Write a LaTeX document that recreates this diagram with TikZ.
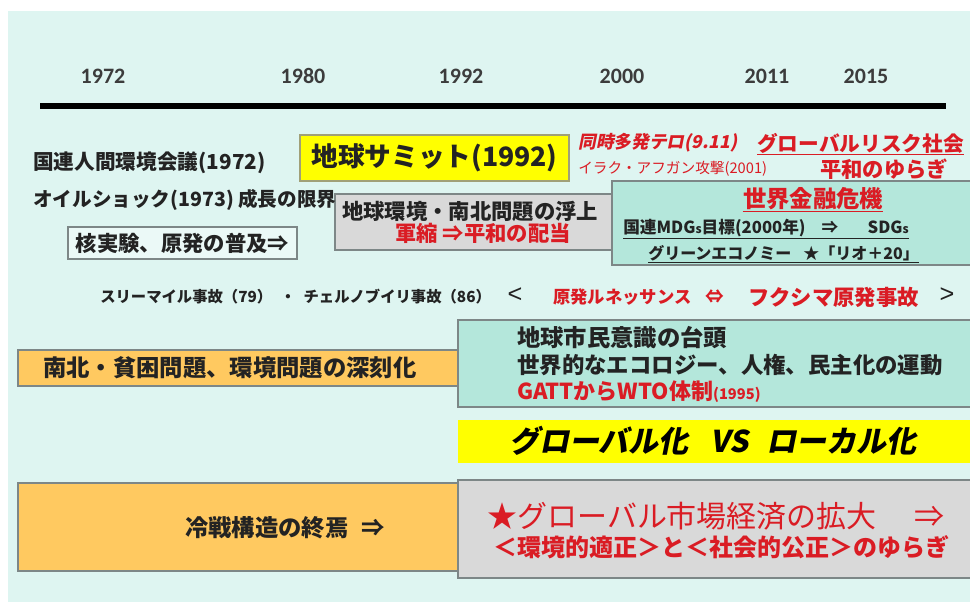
\documentclass[tikz,border=0pt]{standalone}
\usepackage{fontspec}
\setmainfont{Noto Sans CJK JP}
\newfontfamily\jpsl[FakeSlant=0.2,BoldFeatures={FakeSlant=0.2}]{Noto Sans CJK JP}
\newfontfamily\yearfont{Carlito}
\newfontfamily\latfont{Liberation Sans}
\usetikzlibrary{fit}
\definecolor{bgc}{RGB}{222,245,241}
\definecolor{mint}{RGB}{180,231,219}
\definecolor{orng}{RGB}{255,201,96}
\definecolor{gbox}{RGB}{217,217,217}
\definecolor{ylw}{RGB}{255,255,0}
\definecolor{rd}{RGB}{218,28,36}
\definecolor{bord}{RGB}{125,135,135}
\definecolor{ink}{RGB}{35,35,35}
\newcommand{\fz}[1]{\fontsize{#1pt}{#1pt}\selectfont}
\begin{document}
\begin{tikzpicture}[x=0.75pt,y=-0.75pt,
  box/.style={inner sep=0pt,draw=bord,line width=0.9pt},
  txt/.style={inner sep=0pt,anchor=west,text=ink,font=\bfseries},
  ctxt/.style={inner sep=0pt,text=ink,font=\bfseries},
  rtxt/.style={inner sep=0pt,anchor=west,text=rd,font=\bfseries},
  year/.style={inner sep=0pt,text={rgb,255:red,60;green,60;blue,60},font=\yearfont\bfseries\fz{16.5}},
  uline/.style={line width=0.8pt}]
\useasboundingbox (0,0) rectangle (970,602);
\fill[white] (0,0) rectangle (970,602);
\fill[bgc] (8,11) rectangle (970,602);

% timeline
\node[year] (y1) at (103,76) {1972};
\node[year] (y2) at (303,76) {1980};
\node[year] (y3) at (461,76) {1992};
\node[year] (y4) at (622,76) {2000};
\node[year] (y5) at (767,76) {2011};
\node[year] (y6) at (866,76) {2015};
\coordinate (tl) at (40,106);
\coordinate (tr) at (946,106);
\draw[line width=4.5pt,black] (tl) -- (tr);

% left texts
\node[txt,font=\bfseries\fz{15.5}] (un) at (33,163) {国連人間環境会議(1972)};
\node[box,fill=bgc!60!white,minimum width=229*0.75pt,minimum height=32*0.75pt] (kaku) at (182.5,243) {};
\node[ctxt,font=\bfseries\fz{16}] (kakut) at (kaku) {核実験、原発の普及⇒};

% summit
\node[box,fill=ylw,draw={rgb,255:red,160;green,160;blue,120},minimum width=269*0.75pt,minimum height=46*0.75pt] (summit) at (434.5,158) {};
\node[ctxt,font=\bfseries\fz{20}] (summitt) at (summit) {地球サミット(1992)};

% gray box 1
\node[box,fill=gbox,minimum width=277*0.75pt,minimum height=56*0.75pt] (g1) at (473.5,222) {};
\node[ctxt,font=\bfseries\fz{16}] (g1a) at (470,211) {地球環境・南北問題の浮上};
\node[ctxt,text=rd,font=\bfseries\fz{16}] (g1b) at (483,233) {軍縮 ⇒平和の配当};
\node[txt,font=\bfseries\fz{14.7}] (oil) at (33,200) {オイルショック(1973) 成長の限界};

% red top right
\node[rtxt,font=\jpsl\bfseries\fz{13.3}] (tero) at (578,143) {同時多発テロ(9.11)};
\node[rtxt,font=\fz{11}] (iraq) at (578,169) {イラク・アフガン攻撃(2001)};
\node[rtxt,font=\bfseries\fz{15.5}] (grisk) at (757,143) {グローバルリスク社会};
\draw[rd,uline] ([yshift=-1pt]grisk.south west) -- ([yshift=-1pt]grisk.south east);
\node[rtxt,font=\bfseries\fz{16}] (heiwa) at (820,169) {平和のゆらぎ};
\draw[rd,uline] ([yshift=-1pt]heiwa.south west) -- ([yshift=-1pt]heiwa.south east);

% mint box 1
\node[box,fill=mint,minimum width=363*0.75pt,minimum height=84*0.75pt] (m1) at (793.5,223) {};
\node[ctxt,text=rd,font=\bfseries\fz{17.5}] (kinyu) at (813,199) {世界金融危機};
\draw[rd,uline] ([yshift=-1pt]kinyu.south west) -- ([yshift=-1pt]kinyu.south east);
\node[txt,font=\bfseries\fz{12.5}] (mdgs) at (623,228) {国連MDG{\fz{9}s}目標(2000年)\hspace{12pt}⇒\hspace{22pt}SDG{\fz{9}s}};
\draw[ink,uline] ([yshift=-1pt]mdgs.south west) -- ([yshift=-1pt]mdgs.south east);
\node[txt,font=\bfseries\fz{12}] (green) at (648,253) {グリーンエコノミー\hspace{9pt}★「リオ＋20」};
\draw[ink,uline] ([yshift=-1pt]green.south west) -- ([yshift=-1pt]green.south east);

% nuclear row
\node[txt,font=\bfseries\fz{11.5}] (tmi) at (100,297) {スリーマイル事故（79）\hspace{6pt}・\hspace{6pt}チェルノブイリ事故（86）};
\node[ctxt,font=\latfont\fz{19}] (lt) at (515,295) {<};
\node[rtxt,font=\bfseries\fz{13}] (renais) at (553,297) {原発ルネッサンス};
\node[ctxt,text=rd,font=\bfseries\fz{14}] (dbl) at (715,297) {⇔};
\node[rtxt,font=\bfseries\fz{16}] (fuku) at (748,297) {フクシマ原発事故};
\node[ctxt,font=\latfont\fz{19}] (gt) at (947,295) {>};

% mint box 2 and orange 1
\node[box,fill=orng,minimum width=440*0.75pt,minimum height=36*0.75pt] (o1) at (238,368) {};
\node[txt,font=\bfseries\fz{17.5}] (o1t) at (43,368) {南北・貧困問題、環境問題の深刻化};
\node[box,fill=mint,minimum width=517*0.75pt,minimum height=87*0.75pt] (m2) at (716.5,363.5) {};
\node[txt,font=\bfseries\fz{17.5}] (m2a) at (517,338) {地球市民意識の台頭};
\node[txt,font=\bfseries\fz{16.8}] (m2b) at (517,365) {世界的なエコロジー、人権、民主化の運動};
\node[rtxt,font=\bfseries\fz{16.5}] (m2c) at (517,392) {GATTからWTO体制{\fz{11}(1995)}};

% yellow band
\node[inner sep=0pt,fill=ylw,minimum width=517*0.75pt,minimum height=43*0.75pt] (y2b) at (716.5,441.5) {};
\node[ctxt,text=black,font=\jpsl\bfseries\fz{22.5}] (glob) at (713,441) {グローバル化\hspace{16pt}VS\hspace{14pt}ローカル化};

% bottom
\node[box,fill=orng,minimum width=440*0.75pt,minimum height=88*0.75pt] (o2) at (238,527) {};
\node[ctxt,font=\bfseries\fz{17.5}] (o2t) at (285,528) {冷戦構造の終焉\hspace{10pt}⇒};
\node[box,fill=gbox,minimum width=517*0.75pt,minimum height=98*0.75pt] (g3) at (716.5,529) {};
\node[rtxt,font=\fz{22.5}] (g3a) at (487,516) {★グローバル市場経済の拡大\hspace{28pt}⇒};
\node[rtxt,font=\bfseries\fz{18}] (g3b) at (493,547) {＜環境的適正＞と＜社会的公正＞のゆらぎ};
\end{tikzpicture}
\end{document}
